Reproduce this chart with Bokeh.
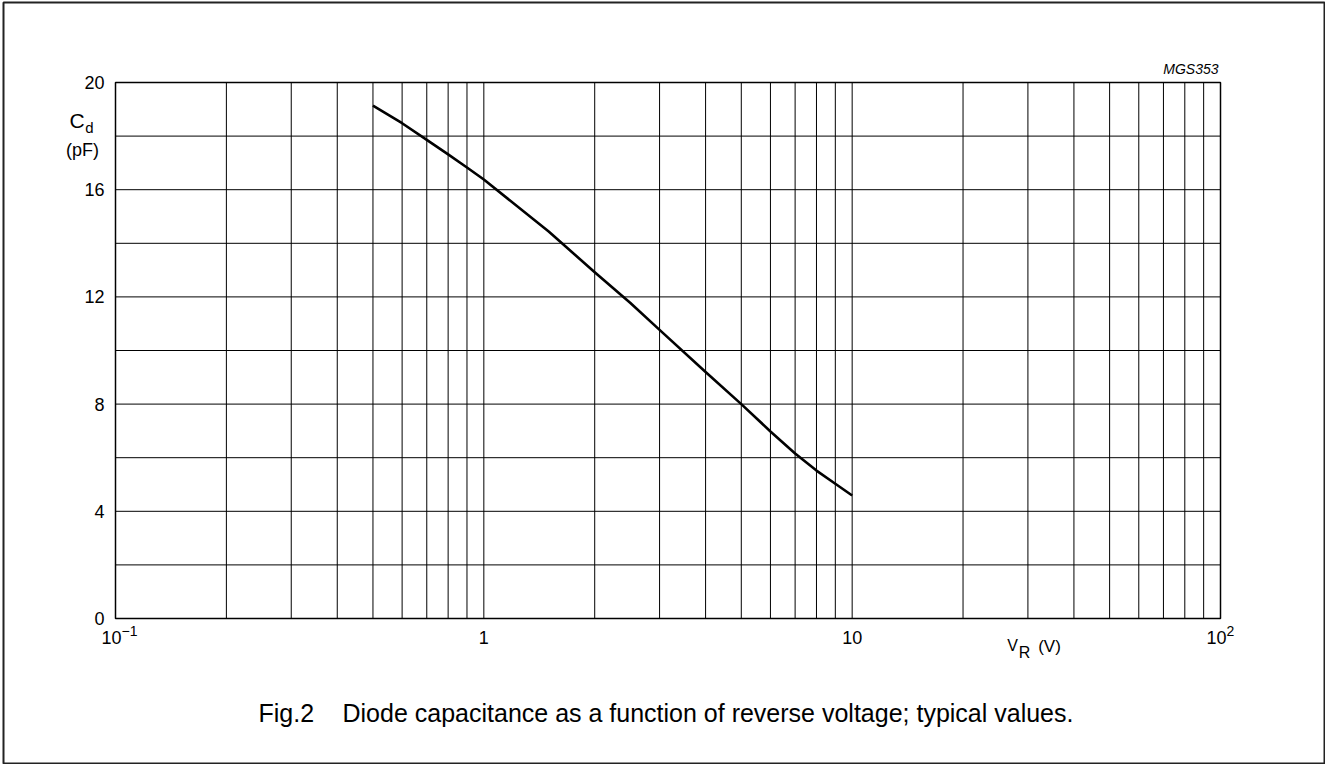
import math
from bokeh.plotting import figure
from bokeh.models import Range1d
from bokeh.embed import file_html
from bokeh.resources import INLINE

# ---- data ----
vr = [0.5, 0.6, 0.7, 0.8, 0.9, 1.0, 1.5, 2.0, 2.5, 3.0, 4.0, 5.0, 6.0, 7.0, 8.0, 9.0, 10.0]
cd = [19.14, 18.48, 17.86, 17.32, 16.83, 16.38, 14.44, 12.92, 11.77, 10.77, 9.2, 8.0, 6.98, 6.16, 5.52, 5.03, 4.59]

x_ticks = [0.1, 1, 10, 100]
x_tick_base = ["10", "1", "10", "10"]
x_tick_exp = ["\u22121", "", "", "2"]
x_grid = [0.1, 0.2, 0.3, 0.4, 0.5, 0.6, 0.7, 0.8, 0.9,
          1, 2, 3, 4, 5, 6, 7, 8, 9,
          10, 20, 30, 40, 50, 60, 70, 80, 90, 100]
y_ticks = [0, 4, 8, 12, 16, 20]
y_grid = [0, 2, 4, 6, 8, 10, 12, 14, 16, 18, 20]

# ---- layout (pixels) ----
W, H = 1325, 764
FR_L, FR_R, FR_T, FR_B = 3, 1324, 2, 763          # outer frame
PX_L, PX_R, PX_T, PX_B = 115, 1220, 82, 618       # plot box
X0, X1 = x_ticks[0], x_ticks[-1]
Y0, Y1 = y_ticks[0], y_ticks[-1]
dec_px = (PX_R - PX_L) / (math.log10(X1) - math.log10(X0))
unit_px = (PX_B - PX_T) / (Y1 - Y0)
x_start = 10 ** (math.log10(X0) - (PX_L - FR_L) / dec_px)
x_end = 10 ** (math.log10(X1) + (FR_R - PX_R) / dec_px)
y_start = Y0 - (FR_B - PX_B) / unit_px
y_end = Y1 + (PX_T - FR_T) / unit_px

FONT = "Liberation Sans"

p = figure(width=W, height=H, x_axis_type="log",
           x_range=Range1d(x_start, x_end), y_range=Range1d(y_start, y_end),
           output_backend="svg", toolbar_location=None,
           min_border_left=FR_L, min_border_right=W - FR_R,
           min_border_top=FR_T, min_border_bottom=H - FR_B)
p.xaxis.visible = False
p.yaxis.visible = False
p.xgrid.visible = False
p.ygrid.visible = False
p.outline_line_color = "#222222"
p.outline_line_width = 2
p.outline_line_alpha = 1

# grid
p.segment(x0=x_grid, y0=[Y0] * len(x_grid), x1=x_grid, y1=[Y1] * len(x_grid),
          line_color="black", line_width=1)
p.segment(x0=[X0] * len(y_grid), y0=y_grid, x1=[X1] * len(y_grid), y1=y_grid,
          line_color="black", line_width=1)
p.quad(left=[X0], right=[X1], bottom=[Y0], top=[Y1], fill_color=None,
       line_color="black", line_width=1.5)

# curve
p.line(vr, cd, line_color="black", line_width=2.6, line_join="round")


def txt(x, y, text, size, dx=0, dy=0, align="center", baseline="middle", style="normal"):
    p.text(x=x, y=y, text=text, x_offset=dx, y_offset=dy,
           text_font={"value": FONT}, text_font_size={"value": size},
           text_font_style=style, text_align=align, text_baseline=baseline,
           text_color="black")


# y tick labels
txt([X0] * len(y_ticks), y_ticks, [str(v) for v in y_ticks], "18px", dx=-11, align="right")

# x tick labels (with superscript exponents)
plain_x = [x for x, e in zip(x_ticks, x_tick_exp) if not e]
plain_t = [b for b, e in zip(x_tick_base, x_tick_exp) if not e]
exp_x = [x for x, e in zip(x_ticks, x_tick_exp) if e]
exp_b = [b for b, e in zip(x_tick_base, x_tick_exp) if e]
exp_e = [e for e in x_tick_exp if e]
txt(plain_x, [Y0] * len(plain_x), plain_t, "18px", dy=19)
txt(exp_x, [Y0] * len(exp_x), exp_b, "18px", dx=6, dy=19, align="right")
txt(exp_x, [Y0] * len(exp_x), exp_e, "14px", dx=6, dy=12, align="left")

# y-axis title  C_d (pF)
txt([X0], [Y1], ["C"], "21px", dx=-46, dy=38, align="left")
txt([X0], [Y1], ["d"], "15px", dx=-26, dy=45)
txt([X0], [Y1], ["(pF)"], "18px", dx=-33, dy=67)

# x-axis title  V_R (V)
txt([X1], [Y0], ["V"], "16px", dx=-208, dy=27)
txt([X1], [Y0], ["R"], "16px", dx=-196, dy=34)
txt([X1], [Y0], ["(V)"], "17px", dx=-171, dy=28)

# figure code
txt([X1], [Y1], ["MGS353"], "14px", dx=-2, dy=-14, align="right", style="italic")

# caption
txt([X0], [Y0], ["Fig.2"], "25px", dx=143, dy=94, align="left")
txt([X0], [Y0], ["Diode capacitance as a function of reverse voltage; typical values."],
    "25px", dx=227, dy=94, align="left")

open("out.html", "w").write(file_html(p, INLINE))
